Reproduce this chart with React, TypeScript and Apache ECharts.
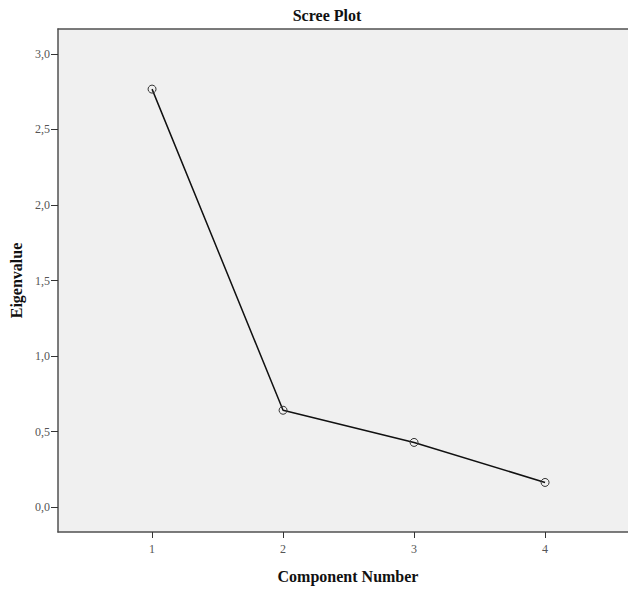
import React, { useEffect, useRef } from "react";
import * as echarts from "echarts";

const components = [1, 2, 3, 4];
const eigenvalues = [2.767, 0.641, 0.428, 0.163];
const yTicks = [0, 0.5, 1.0, 1.5, 2.0, 2.5, 3.0];
const xTicks = [1, 2, 3, 4];

export default function App() {
  const ref = useRef<HTMLDivElement>(null);
  useEffect(() => {
    document.body.style.margin = "0";
    const chart = echarts.init(ref.current!, null, { renderer: "svg" });
    const font = "'Liberation Serif', 'Times New Roman', serif";
    const frame = { color: "#505050", width: 1.5 };
    chart.setOption({
      animation: false,
      backgroundColor: "#ffffff",
      title: {
        text: "Scree Plot",
        left: 322,
        top: 2,
        textAlign: "center",
        textStyle: { fontFamily: font, fontWeight: "bold", fontSize: 16, color: "#111" },
      },
      grid: {
        left: 58,
        top: 29,
        right: 0,
        bottom: 56,
        show: true,
        backgroundColor: "#f0f0f0",
        borderWidth: 0,
      },
      xAxis: [
        {
          type: "value",
          position: "bottom",
          min: 0.282,
          max: 4.633,
          name: "Component Number",
          nameLocation: "middle",
          nameGap: 36,
          nameTextStyle: { fontFamily: font, fontWeight: "bold", fontSize: 16, color: "#111", padding: [0, 0, 0, 10] },
          axisLine: { show: true, onZero: false, lineStyle: frame },
          splitLine: { show: false },
          axisTick: { show: true, length: 6, customValues: xTicks, lineStyle: { color: "#333", width: 1 } },
          axisLabel: {
            customValues: xTicks,
            margin: 11,
            fontFamily: font,
            fontSize: 12,
            color: "#555",
          },
        },
        {
          type: "value",
          position: "top",
          min: 0.282,
          max: 4.633,
          axisLine: { show: true, onZero: false, lineStyle: frame },
          splitLine: { show: false },
          axisTick: { show: false },
          axisLabel: { show: false },
        },
      ],
      yAxis: {
        type: "value",
        min: -0.165,
        max: 3.165,
        name: "Eigenvalue",
        nameLocation: "middle",
        nameRotate: 90,
        nameGap: 29,
        nameTextStyle: { fontFamily: font, fontWeight: "bold", fontSize: 16, color: "#111" },
        axisLine: { show: true, onZero: false, lineStyle: frame },
        splitLine: { show: false },
        axisTick: { show: true, length: 7, customValues: yTicks, lineStyle: { color: "#333", width: 1 } },
        axisLabel: {
          customValues: yTicks,
          margin: 8,
          fontFamily: font,
          fontSize: 12,
          color: "#555",
          formatter: (v: number) => v.toFixed(1).replace(".", ","),
        },
      },
      series: [
        {
          type: "line",
          xAxisIndex: 0,
          data: components.map((c, i) => [c, eigenvalues[i]]),
          symbol: "circle",
          symbolSize: 8,
          lineStyle: { color: "#111", width: 1.5 },
          itemStyle: { color: "transparent", borderColor: "#333", borderWidth: 1 },
        },
      ],
    });
    return () => chart.dispose();
  }, []);
  return <div ref={ref} style={{ width: 628, height: 589 }} />;
}
